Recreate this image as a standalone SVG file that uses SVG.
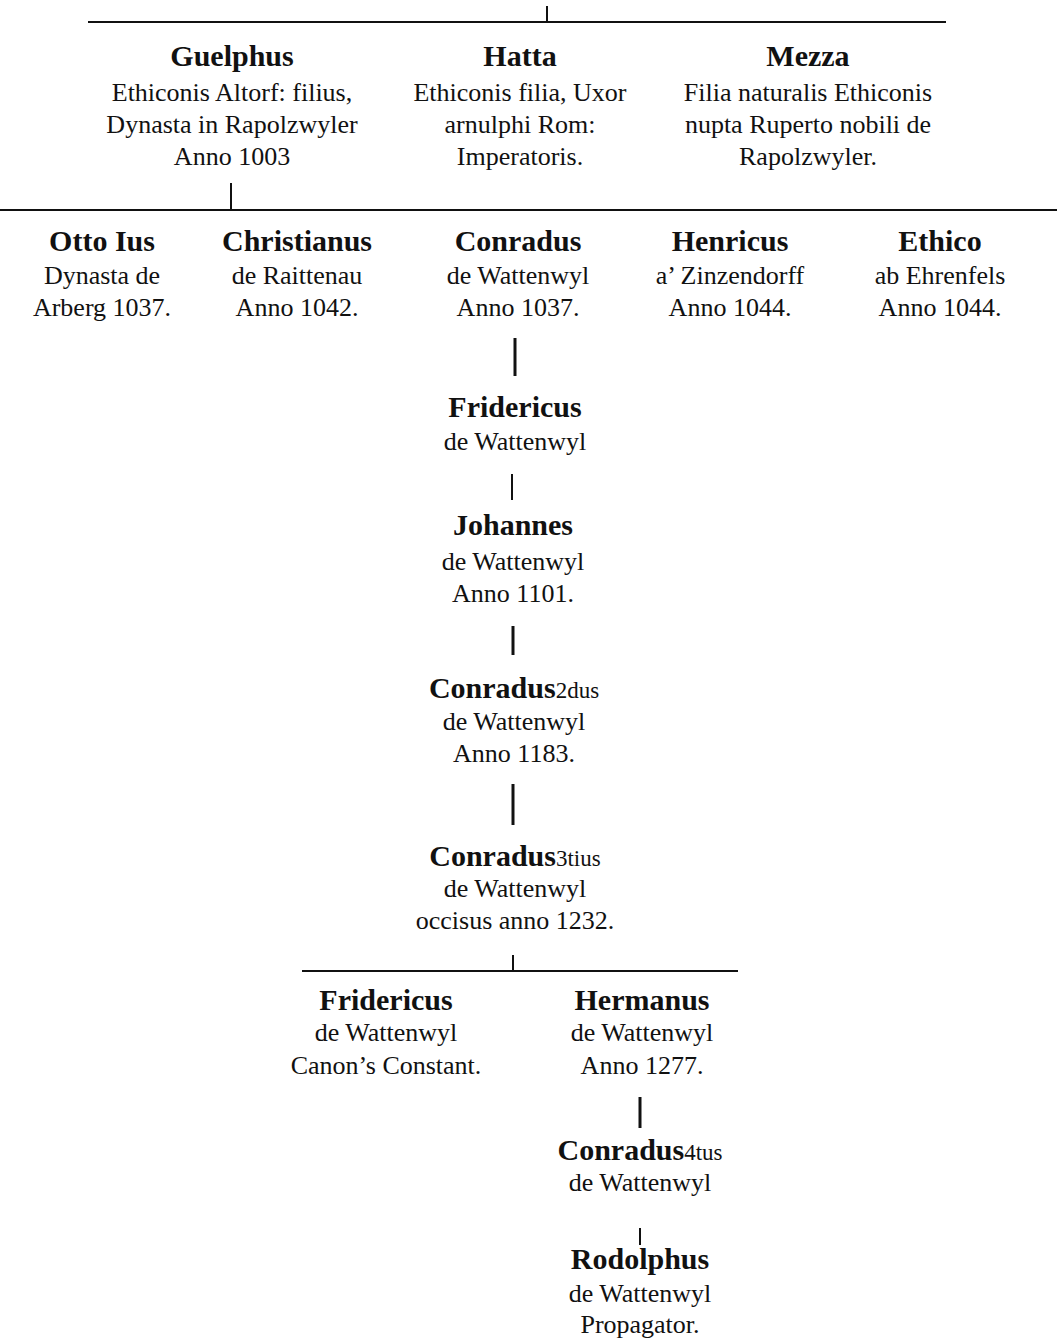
<svg xmlns="http://www.w3.org/2000/svg" width="1057" height="1339" viewBox="0 0 1057 1339">
<style>
text{font-family:"Liberation Serif","Times New Roman",serif;fill:#111;text-anchor:middle}
.t{font-size:30px;font-weight:bold}
.b{font-size:26px}
.s{font-size:23px;font-weight:normal}
.ln{stroke:#111;stroke-width:2;fill:none}
.th{stroke:#111;stroke-width:3;fill:none}
</style>
<rect width="1057" height="1339" fill="#fff"/>
<g id="connectors">
<line class="ln" x1="88" y1="22" x2="946" y2="22"/>
<line class="ln" x1="547" y1="6" x2="547" y2="22"/>
<line class="ln" x1="231" y1="183" x2="231" y2="210"/>
<line class="ln" x1="0" y1="210" x2="1057" y2="210"/>
<line class="th" x1="515" y1="338" x2="515" y2="376"/>
<line class="ln" x1="512" y1="474" x2="512" y2="500"/>
<line class="th" x1="513" y1="626" x2="513" y2="655"/>
<line class="th" x1="513" y1="784" x2="513" y2="825"/>
<line class="ln" x1="513" y1="955" x2="513" y2="971"/>
<line class="ln" x1="302" y1="971" x2="738" y2="971"/>
<line class="th" x1="640" y1="1097" x2="640" y2="1128"/>
<line class="ln" x1="640" y1="1228" x2="640" y2="1245"/>
</g>
<g id="guelphus"><text class="t" x="232" y="66">Guelphus</text><text class="b" x="232" y="101">Ethiconis Altorf: filius,</text><text class="b" x="232" y="133">Dynasta in Rapolzwyler</text><text class="b" x="232" y="165">Anno 1003</text></g>
<g id="hatta"><text class="t" x="520" y="66">Hatta</text><text class="b" x="520" y="101">Ethiconis filia, Uxor</text><text class="b" x="520" y="133">arnulphi Rom:</text><text class="b" x="520" y="165">Imperatoris.</text></g>
<g id="mezza"><text class="t" x="808" y="66">Mezza</text><text class="b" x="808" y="101">Filia naturalis Ethiconis</text><text class="b" x="808" y="133">nupta Ruperto nobili de</text><text class="b" x="808" y="165">Rapolzwyler.</text></g>
<g id="otto"><text class="t" x="102" y="251">Otto Ius</text><text class="b" x="102" y="284">Dynasta de</text><text class="b" x="102" y="316">Arberg 1037.</text></g>
<g id="christianus"><text class="t" x="297" y="251">Christianus</text><text class="b" x="297" y="284">de Raittenau</text><text class="b" x="297" y="316">Anno 1042.</text></g>
<g id="conradus"><text class="t" x="518" y="251">Conradus</text><text class="b" x="518" y="284">de Wattenwyl</text><text class="b" x="518" y="316">Anno 1037.</text></g>
<g id="henricus"><text class="t" x="730" y="251">Henricus</text><text class="b" x="730" y="284">a’ Zinzendorff</text><text class="b" x="730" y="316">Anno 1044.</text></g>
<g id="ethico"><text class="t" x="940" y="251">Ethico</text><text class="b" x="940" y="284">ab Ehrenfels</text><text class="b" x="940" y="316">Anno 1044.</text></g>
<g id="fridericus1"><text class="t" x="515" y="417">Fridericus</text><text class="b" x="515" y="450">de Wattenwyl</text></g>
<g id="johannes"><text class="t" x="513" y="535">Johannes</text><text class="b" x="513" y="570">de Wattenwyl</text><text class="b" x="513" y="602">Anno 1101.</text></g>
<g id="conradus2"><text class="t" x="514" y="698">Conradus<tspan class="s">2dus</tspan></text><text class="b" x="514" y="730">de Wattenwyl</text><text class="b" x="514" y="762">Anno 1183.</text></g>
<g id="conradus3"><text class="t" x="515" y="866">Conradus<tspan class="s">3tius</tspan></text><text class="b" x="515" y="897">de Wattenwyl</text><text class="b" x="515" y="929">occisus anno 1232.</text></g>
<g id="fridericus2"><text class="t" x="386" y="1010">Fridericus</text><text class="b" x="386" y="1041">de Wattenwyl</text><text class="b" x="386" y="1074">Canon’s Constant.</text></g>
<g id="hermanus"><text class="t" x="642" y="1010">Hermanus</text><text class="b" x="642" y="1041">de Wattenwyl</text><text class="b" x="642" y="1074">Anno 1277.</text></g>
<g id="conradus4"><text class="t" x="640" y="1160">Conradus<tspan class="s">4tus</tspan></text><text class="b" x="640" y="1191">de Wattenwyl</text></g>
<g id="rodolphus"><text class="t" x="640" y="1269">Rodolphus</text><text class="b" x="640" y="1302">de Wattenwyl</text><text class="b" x="640" y="1333">Propagator.</text></g>
</svg>
